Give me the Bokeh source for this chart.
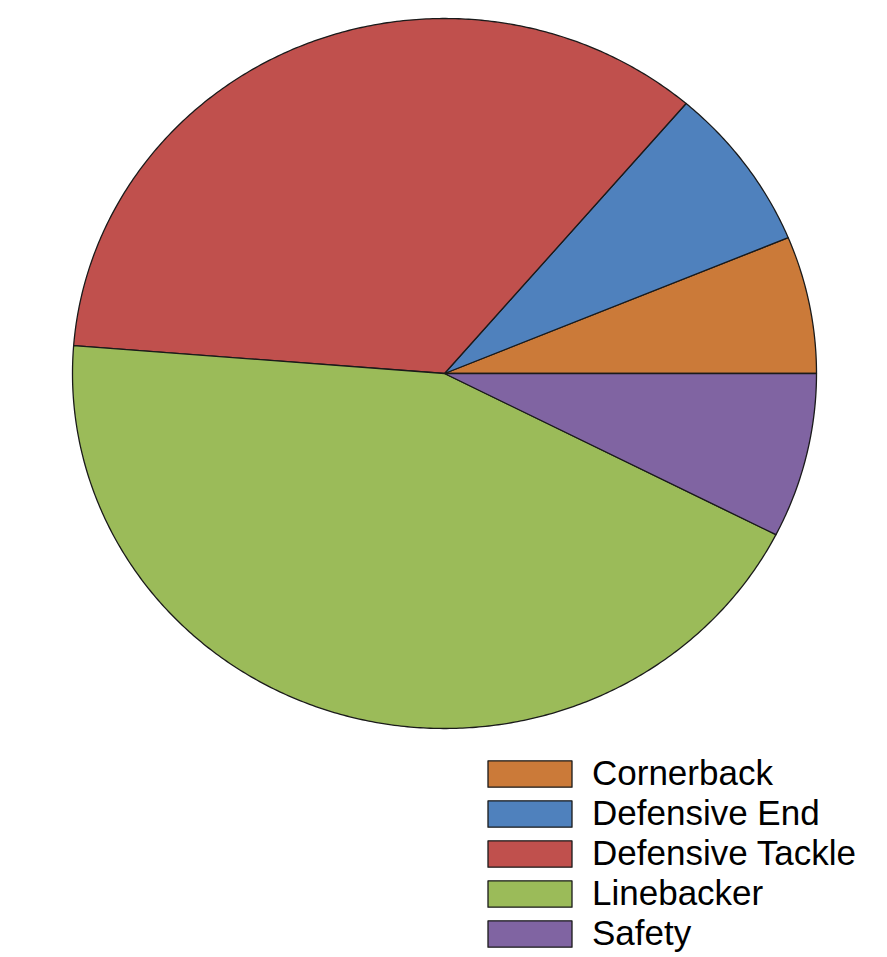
import numpy as np
from bokeh.plotting import figure
from bokeh.models import ColumnDataSource, Range1d, Legend, LegendItem
from bokeh.embed import file_html
from bokeh.resources import INLINE

positions = ["Cornerback", "Defensive End", "Defensive Tackle", "Linebacker", "Safety"]
counts = [5, 6, 28, 35, 6]
colors = ["#CB7A39", "#4F81BD", "#C0504D", "#9BBB59", "#8064A2"]

W, H = 880, 955
cx_px, cy_px = 444, 373   # pie centre inside the frame (from left / from top)
rx_px, ry_px = 372, 355   # ellipse radii in pixels

p = figure(width=W, height=H, output_backend="svg", toolbar_location=None,
           x_axis_location=None, y_axis_location=None, min_border=0,
           x_range=Range1d(-cx_px / rx_px, (W - cx_px) / rx_px),
           y_range=Range1d(-(H - cy_px) / ry_px, cy_px / ry_px))
p.grid.visible = False
p.outline_line_color = None
p.background_fill_color = "white"

total = sum(counts)
fracs = np.cumsum([0] + counts) / total
items = []
for i, (name, c) in enumerate(zip(positions, colors)):
    a0, a1 = 2 * np.pi * fracs[i], 2 * np.pi * fracs[i + 1]
    n = max(int((a1 - a0) / (2 * np.pi) * 720), 8)
    t = np.linspace(a0, a1, n)
    xs = np.concatenate([[0.0], np.cos(t), [0.0]])
    ys = np.concatenate([[0.0], np.sin(t), [0.0]])
    src = ColumnDataSource(dict(xs=[xs.tolist()], ys=[ys.tolist()]))
    r = p.patches("xs", "ys", source=src, fill_color=c, line_color="#1a1a1a",
                  line_width=1.3, line_join="round")
    items.append(LegendItem(label=name, renderers=[r]))

legend = Legend(items=items, location=(477, 2), orientation="vertical",
                glyph_width=105, glyph_height=33, label_height=33,
                label_standoff=10, spacing=0, padding=0, margin=0,
                label_text_font="Liberation Sans", label_text_font_size="35px",
                label_text_color="black", border_line_color=None,
                background_fill_alpha=0)
p.add_layout(legend)

open("out.html", "w").write(file_html(p, INLINE))
